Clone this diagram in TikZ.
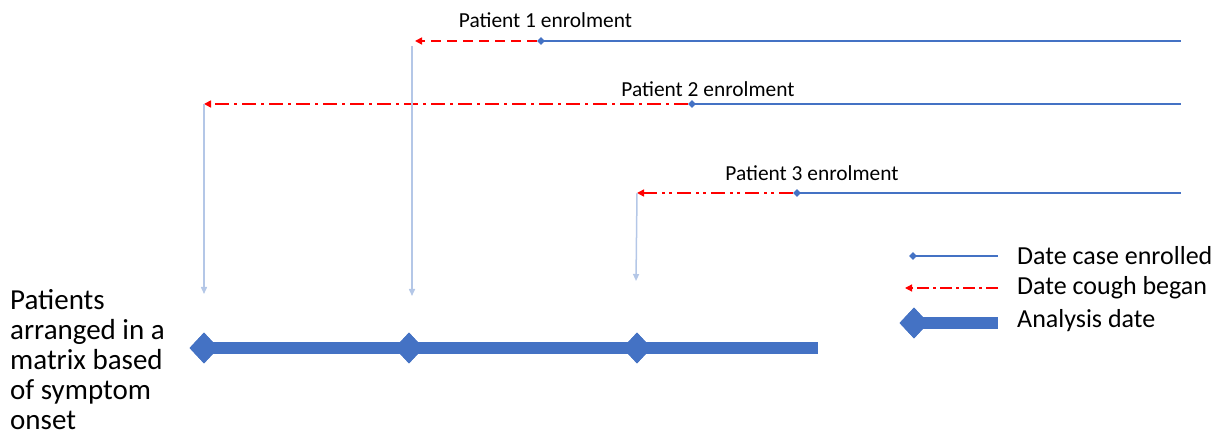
\documentclass[tikz,border=0pt]{standalone}
\usepackage{fontspec}
\setmainfont{Carlito}
\usetikzlibrary{arrows.meta,shapes.geometric}
\definecolor{cblue}{HTML}{4472C4}
\definecolor{clight}{HTML}{B4C7E7}
\definecolor{cred}{HTML}{FF0000}
\begin{document}
\begin{tikzpicture}[x=1pt,y=-1pt,
  enrol/.style={draw=cblue,line width=1.5pt},
  cough/.style={draw=cred,line width=1.6pt,-{Triangle[length=7pt,width=7pt]}},
  drop/.style={draw=clight,line width=1.5pt,-{Triangle[length=7pt,width=6pt]}},
  smalldia/.style={diamond,fill=cblue,inner sep=0pt,minimum width=8pt,minimum height=8pt},
  bigdia/.style={diamond,fill=cblue,inner sep=0pt,minimum width=29pt,minimum height=31pt},
  thick axis/.style={draw=cblue,line width=12pt},
  lbl/.style={font=\fontsize{21.4}{24}\selectfont,inner sep=0pt},
  leg/.style={font=\fontsize{26}{30}\selectfont,anchor=west,inner sep=0pt}
]
\useasboundingbox (0,0) rectangle (1223,435);
% row ends
\coordinate (e1) at (1181,41);
\coordinate (e2) at (1181,104);
\coordinate (e3) at (1181,193);
\node[smalldia] (s1) at (541,41) {};
\node[smalldia] (s2) at (692,104) {};
\node[smalldia] (s3) at (797,193) {};
\coordinate (c1) at (415,41);
\coordinate (c2) at (204,104);
\coordinate (c3) at (637,193);
% enrolment lines
\draw[enrol] (s1.center) -- (e1);
\draw[enrol] (s2.center) -- (e2);
\draw[enrol] (s3.center) -- (e3);
% cough lines
\draw[cough,dash pattern=on 10pt off 6pt] (s1.west) -- (c1);
\draw[cough,dash pattern=on 14pt off 5pt on 3pt off 5pt] (s2.west) -- (c2);
\draw[cough,dash pattern=on 14pt off 5pt on 3pt off 4pt on 3pt off 5pt] (s3.west) -- (c3);
% labels
\node[lbl] (l1) at (545.5,20) {Patient 1 enrolment};
\node[lbl] (l2) at (708,89) {Patient 2 enrolment};
\node[lbl] (l3) at (812,173) {Patient 3 enrolment};
% analysis axis
\node[bigdia] (d1) at (204,348) {};
\node[bigdia] (d2) at (409,348) {};
\node[bigdia] (d3) at (637,348) {};
\coordinate (axend) at (818,348);
\draw[thick axis] (d1.center) -- (axend);
\node[bigdia] at (204,348) {};
\node[bigdia] at (409,348) {};
\node[bigdia] at (637,348) {};
% drop arrows
\coordinate (t1) at (204,294);
\coordinate (t2) at (412,296);
\coordinate (t3) at (636,281);
\coordinate (u2) at (412,46);
\draw[drop] (c2) -- (t1);
\draw[drop] (u2) -- (t2);
\draw[drop] (c3) -- (t3);
% left text
\node[font=\fontsize{29}{30}\selectfont,align=left,anchor=north west,inner sep=0pt] (txt) at (10,289)
  {Patients\\arranged in a\\matrix based\\of symptom\\onset};
% legend
\node[smalldia] (g1) at (913,256) {};
\coordinate (g1e) at (998,256);
\draw[enrol] (g1.center) -- (g1e);
\coordinate (g2s) at (998,288);
\coordinate (g2e) at (905,288);
\draw[cough,line width=1.3pt,dash pattern=on 12pt off 4pt on 3pt off 4pt] (g2s) -- (g2e);
\node[bigdia] (g3) at (914,323) {};
\coordinate (g3e) at (998,323);
\draw[thick axis] (g3.center) -- (g3e);
\node[bigdia] at (914,323) {};
\node[leg] (tl1) at (1017,256) {Date case enrolled};
\node[leg] (tl2) at (1017,288) {Date cough began};
\node[leg] (tl3) at (1017,321) {Analysis date};
\end{tikzpicture}
\end{document}
